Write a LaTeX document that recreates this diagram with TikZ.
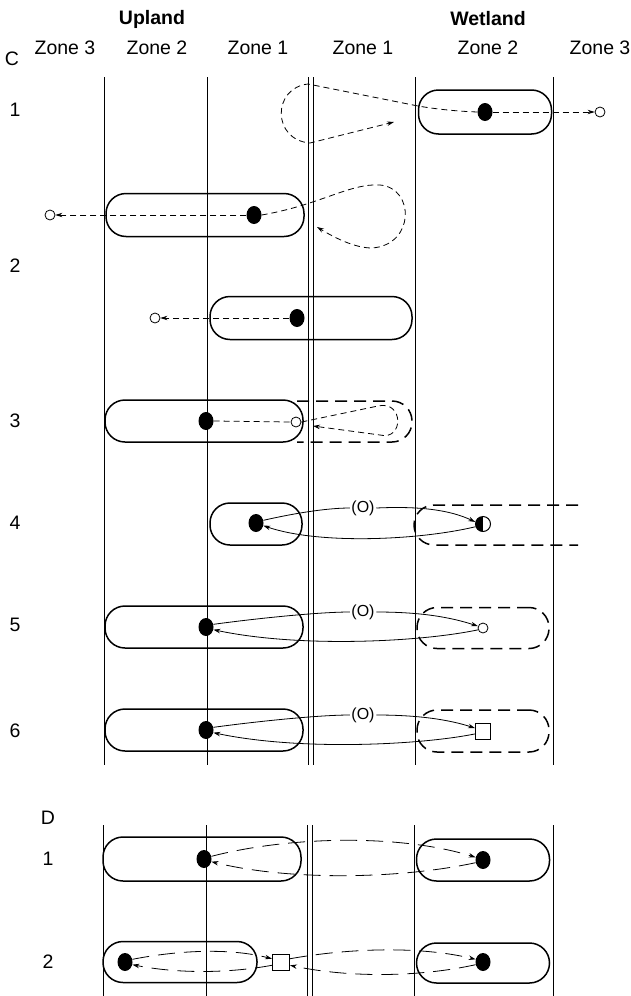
\documentclass[tikz,border=0pt]{standalone}
\usepackage{fontspec}
\setmainfont{Liberation Sans}
\usetikzlibrary{arrows.meta,shapes.geometric}
\begin{document}
\begin{tikzpicture}[x=1pt,y=-1pt,
  vline/.style={line width=1pt},
  pill/.style={draw, line width=1.5pt, rectangle, rounded corners=20pt, inner sep=0pt},
  dpill/.style={draw, line width=1.5pt, dash pattern=on 12pt off 7pt, rectangle, rounded corners=20pt, inner sep=0pt},
  dot/.style={ellipse, fill=black, inner sep=0pt, minimum width=15pt, minimum height=18pt},
  odot/.style={circle, draw, line width=0.8pt, fill=white, inner sep=0pt, minimum size=10pt},
  hdot/.style={circle, draw, line width=1pt, fill=white, inner sep=0pt, minimum size=15pt,
    path picture={\fill[black] (path picture bounding box.south west) rectangle (path picture bounding box.north);}},
  sq/.style={rectangle, draw, line width=1pt, fill=white, inner sep=0pt, minimum width=15pt, minimum height=16pt},
  tip/.style={-{Stealth[length=7pt,width=4.5pt]}},
  fdash/.style={dash pattern=on 6pt off 4pt, line width=0.8pt},
  ldash/.style={dash pattern=on 17pt off 9pt, line width=0.8pt},
  conn/.style={line width=0.8pt},
  lbl/.style={font=\fontsize{19.5}{22}\selectfont, inner sep=0pt},
  hdr/.style={font=\bfseries\fontsize{19.5}{22}\selectfont, inner sep=0pt},
  olbl/.style={font=\fontsize{16}{18}\selectfont, inner sep=1.5pt},
]
\useasboundingbox (0,0) rectangle (630,996);

% headers
\node[hdr] (up) at (152,19) {Upland};
\node[hdr] (wet) at (488,19) {Wetland};
\node[lbl] (zc) at (12,59) {C};
\node[lbl] (z3l) at (65,48) {Zone 3};
\node[lbl] (z2l) at (157,48) {Zone 2};
\node[lbl] (z1l) at (258,48) {Zone 1};
\node[lbl] (z1r) at (363,48) {Zone 1};
\node[lbl] (z2r) at (488,48) {Zone 2};
\node[lbl] (z3r) at (600,48) {Zone 3};

% row labels
\node[lbl] (r1) at (15,110) {1};
\node[lbl] (r2) at (15,266) {2};
\node[lbl] (r3) at (15,421) {3};
\node[lbl] (r4) at (15,523) {4};
\node[lbl] (r5) at (15,625) {5};
\node[lbl] (r6) at (15,731) {6};

% vertical lines C
\foreach \xx in {104,207,308,313,415,553} \draw[vline] (\xx,77) -- (\xx,765);
% vertical lines D
\foreach \xx in {103,206,307,312,414,553} \draw[vline] (\xx,825) -- (\xx,996);

% ---- C1
\node[pill, minimum width=133pt, minimum height=44pt] (p1) at (485,112) {};
\node[dot] (d1) at (485,112) {};
\node[odot] (o1) at (600,112) {};
\coordinate (c1a) at (308,84);
\coordinate (c1b) at (310,143);
\coordinate (c1t) at (394,122);
\draw[fdash,tip] (d1.west) .. controls (450,111) and (430,108) .. (418,106) -- (c1a) .. controls (272,88) and (272,140) .. (c1b) -- (c1t);
\draw[fdash,tip] (d1.east) -- (o1.west);

% ---- C2a
\node[pill, minimum width=198pt, minimum height=43pt] (p2a) at (205,215) {};
\node[dot] (d2a) at (254,215) {};
\node[odot] (o2a) at (50,215) {};
\coordinate (c2t) at (317,227);
\draw[fdash,tip] (d2a.west) -- (o2a.east);
\draw[fdash,tip] (d2a.east) .. controls (320,205) and (350,183) .. (380,185) .. controls (415,188) and (415,245) .. (372,248) .. controls (355,248) and (335,238) .. (c2t);

% ---- C2b
\node[pill, minimum width=202pt, minimum height=43pt] (p2b) at (311,318) {};
\node[dot] (d2b) at (297,318) {};
\node[odot] (o2b) at (155,318) {};
\draw[fdash,tip] (d2b.west) -- (o2b.east);

% ---- C3
\draw[line width=1.5pt, dash pattern=on 12pt off 7pt, rounded corners=20pt] (297,401) -- (412,401) -- (412,442) -- (297,442);
\node[pill, minimum width=198pt, minimum height=42pt] (p3) at (204,421) {};
\node[dot] (d3) at (206,421) {};
\node[odot] (o3) at (296,422) {};
\coordinate (c3t) at (313,426);
\draw[fdash] (d3.east) -- (o3.west);
\draw[fdash,tip] (o3.east) -- (378,406) .. controls (404,400) and (404,441) .. (380,435) -- (c3t);

% ---- C4
\draw[line width=1.5pt, dash pattern=on 12pt off 7pt, rounded corners=20pt] (578,505) -- (414,505) -- (414,545) -- (578,545);
\node[pill, minimum width=92pt, minimum height=42pt] (p4) at (256,524) {};
\node[dot] (d4) at (256,523) {};
\node[hdot] (h4) at (483,524) {};
\node[olbl] (q4) at (363,508) {(O)};
\draw[conn] (d4.20) .. controls (300,512) and (330,508) .. (q4.west);
\draw[conn,tip] (q4.east) .. controls (420,506) and (450,510) .. (h4.165);
\draw[conn,tip] (h4.200) .. controls (420,540) and (320,545) .. (d4.-20);

% ---- C5
\node[pill, minimum width=198pt, minimum height=42pt] (p5) at (204,627) {};
\node[dpill, minimum width=132pt, minimum height=41pt] (p5d) at (483,628) {};
\node[dot] (d5) at (206,627) {};
\node[odot] (o5) at (483,628) {};
\node[olbl] (q5) at (363,612) {(O)};
\draw[conn] (d5.20) .. controls (260,618) and (320,612) .. (q5.west);
\draw[conn,tip] (q5.east) .. controls (420,612) and (450,617) .. (o5.160);
\draw[conn,tip] (o5.200) .. controls (420,642) and (300,648) .. (d5.-20);

% ---- C6
\node[pill, minimum width=198pt, minimum height=42pt] (p6) at (204,730) {};
\node[dpill, minimum width=132pt, minimum height=42pt] (p6d) at (483,731) {};
\node[dot] (d6) at (206,730) {};
\node[sq] (s6) at (483,731) {};
\node[olbl] (q6) at (363,715) {(O)};
\draw[conn] (d6.20) .. controls (260,721) and (320,715) .. (q6.west);
\draw[conn,tip] (q6.east) .. controls (420,715) and (450,720) .. (s6.160);
\draw[conn,tip] (s6.200) .. controls (420,745) and (300,751) .. (d6.-20);

% ---- D
\node[lbl] (dl) at (48,818) {D};
\node[lbl] (dr1) at (48,859) {1};
\node[lbl] (dr2) at (48,962) {2};

% D1
\node[pill, minimum width=198pt, minimum height=44pt] (p7l) at (202,859) {};
\node[pill, minimum width=133pt, minimum height=42pt] (p7r) at (483,860) {};
\node[dot] (d7l) at (204,859) {};
\node[dot] (d7r) at (483,860) {};
\draw[ldash,tip] (d7l.20) .. controls (290,836) and (400,834) .. (d7r.160);
\draw[ldash,tip] (d7r.200) .. controls (400,879) and (290,881) .. (d7l.-20);

% D2
\node[pill, minimum width=154pt, minimum height=41pt] (p8l) at (180,962) {};
\node[pill, minimum width=133pt, minimum height=40pt] (p8r) at (483,963) {};
\node[dot] (d8l) at (125,962) {};
\node[sq, minimum width=17pt] (s8) at (281,962) {};
\node[dot] (d8r) at (483,962) {};
\draw[ldash,tip] (d8l.20) .. controls (180,950) and (230,948) .. (s8.160);
\draw[ldash,tip] (s8.200) .. controls (230,973) and (180,974) .. (d8l.-20);
\draw[ldash,tip] (s8.20) .. controls (350,948) and (420,946) .. (d8r.160);
\draw[ldash,tip] (d8r.200) .. controls (420,977) and (350,978) .. (s8.-20);
\end{tikzpicture}
\end{document}
